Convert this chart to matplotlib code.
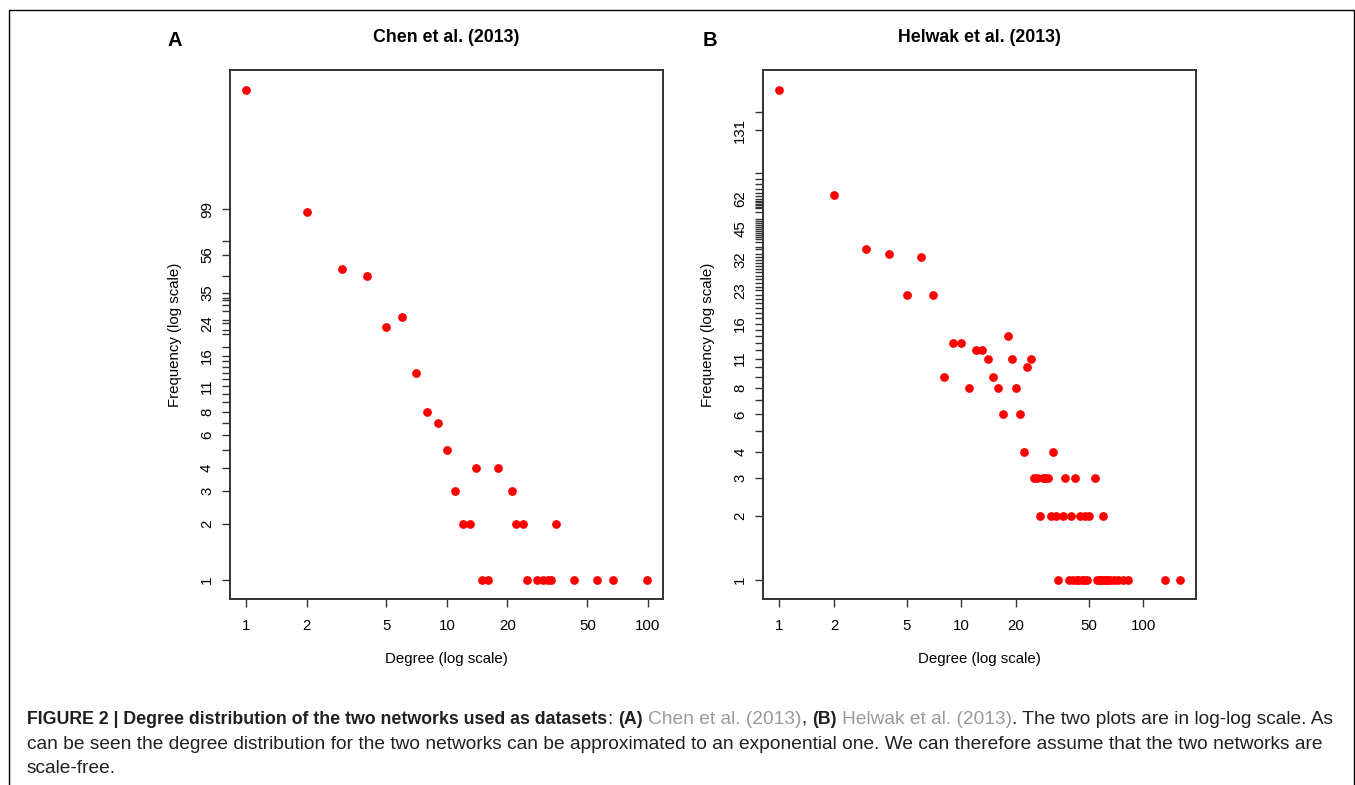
import matplotlib
matplotlib.use("Agg")
import matplotlib.pyplot as plt
from matplotlib.ticker import NullLocator
from matplotlib.transforms import IdentityTransform
from matplotlib.lines import Line2D

plt.rcParams['font.family'] = ['Liberation Sans', 'DejaVu Sans']

# Chen et al. (2013): degree -> frequency
chen_degree = [1, 2, 3, 4, 5, 6, 7, 8, 9, 10, 11, 12, 13, 14, 15, 16, 18, 21, 22,
               24, 25, 28, 30, 32, 33, 35, 43, 56, 67, 99]
chen_freq = [435, 95, 47, 43, 23, 26, 13, 8, 7, 5, 3, 2, 2, 4, 1, 1, 4, 3, 2,
             2, 1, 1, 1, 1, 1, 2, 1, 1, 1, 1]
chen_ylabels = [1, 2, 3, 4, 6, 8, 11, 16, 24, 35, 56, 99]

# Helwak et al. (2013): degree -> frequency
helwak_degree = [1, 2, 3, 4, 5, 6, 7, 8, 9, 10, 11, 12, 13, 14, 15, 16, 17, 18, 19,
                 20, 21, 22, 23, 24, 25, 26, 27, 28, 29, 30, 31, 32, 33, 34, 36, 37,
                 39, 40, 41, 42, 43, 44, 45, 46, 47, 48, 49, 50, 54, 56, 57, 58, 59,
                 60, 61, 62, 64, 66, 69, 73, 77, 82, 131, 159]
helwak_freq = [203, 65, 36, 34, 22, 33, 22, 9, 13, 13, 8, 12, 12, 11, 9, 8, 6, 14, 11,
               8, 6, 4, 10, 11, 3, 3, 2, 3, 3, 3, 2, 4, 2, 1, 2, 3,
               1, 2, 1, 3, 1, 1, 2, 1, 1, 2, 1, 2, 3, 1, 1, 1, 1,
               2, 1, 1, 1, 1, 1, 1, 1, 1, 1, 1]
helwak_ylabels = [1, 2, 3, 4, 6, 8, 11, 16, 23, 32, 45, 62, 131]

xtick_vals = [1, 2, 5, 10, 20, 50, 100]

W, H = 1355, 785
fig = plt.figure(figsize=(W / 100, H / 100), dpi=100)


def log_lim(vals, pad=0.04):
    lo, hi = min(vals), max(vals)
    r = hi / lo
    return lo * r ** -pad, hi * r ** pad


def panel(rect, deg, freq, ylabs, title, letter, letter_x):
    ax = fig.add_axes(rect)
    ax.plot(deg, freq, 'o', color='red', ms=6.3, mew=0)
    ax.set_xscale('log')
    ax.set_yscale('log')
    ax.set_xticks(xtick_vals)
    ax.set_xticklabels([str(v) for v in xtick_vals])
    ax.set_yticks(deg)
    ax.set_yticklabels([str(d) if d in ylabs else '' for d in deg])
    ax.xaxis.set_minor_locator(NullLocator())
    ax.yaxis.set_minor_locator(NullLocator())
    ax.set_xlim(*log_lim(deg))
    ax.set_ylim(*log_lim(freq))
    for sp in ax.spines.values():
        sp.set_color('#333333')
        sp.set_linewidth(1.4)
    ax.tick_params(axis='both', direction='out', length=5.5, width=1.0,
                   color='#333333', labelsize=10.8)
    ax.tick_params(axis='x', pad=9)
    ax.tick_params(axis='y', pad=6)
    for lab in ax.get_yticklabels():
        lab.set_rotation(90)
        lab.set_va('center')
    ax.text(0.5, -0.113, 'Degree (log scale)', transform=ax.transAxes,
            ha='center', va='center', fontsize=10.8)
    ax.text(-0.128, 0.5, 'Frequency (log scale)', transform=ax.transAxes,
            ha='center', va='center', rotation=90, fontsize=10.8)
    ax.text(0.5, 1 + (785 - 38 - 715) / 529.3, title, transform=ax.transAxes,
            ha='center', va='center', fontsize=12.8, fontweight='bold')
    fig.text(letter_x / W, 1 - 40 / H, letter, ha='center', va='center',
             fontsize=14.5, fontweight='bold')
    return ax


panel([230 / W, 185.7 / H, 433 / W, 529.3 / H], chen_degree, chen_freq,
      chen_ylabels, 'Chen et al. (2013)', 'A', 175)
panel([763.3 / W, 185.7 / H, 432.7 / W, 529.3 / H], helwak_degree, helwak_freq,
      helwak_ylabels, 'Helwak et al. (2013)', 'B', 710)

# outer frame (open at bottom)
frame = Line2D([9 / W, 9 / W, 1353.5 / W, 1353.5 / W],
               [0, 1 - 10 / H, 1 - 10 / H, 0],
               transform=fig.transFigure, color='black', lw=1.0)
fig.add_artist(frame)

# caption, drawn run by run (bold face in the original is condensed)
renderer = fig.canvas.get_renderer()
cap_size = {'normal': 13.75, 'bold': 12.8}
cap_fam = ['Liberation Sans']
dark = '#231f20'
grey = '#999999'


def width_of(s, weight):
    t = fig.text(0, 0, s, fontsize=cap_size[weight], fontweight=weight,
                 family=cap_fam, transform=IdentityTransform())
    w = t.get_window_extent(renderer).width
    t.remove()
    return w


space_w = width_of('a a', 'normal') - width_of('aa', 'normal')


def draw_line(runs, x, y):
    for text, weight, color, gap in runs:
        t = fig.text(x, y, text, fontsize=cap_size[weight], fontweight=weight,
                     color=color, family=cap_fam, va='baseline',
                     transform=IdentityTransform())
        x += t.get_window_extent(renderer).width
        if gap:
            x += space_w


line1 = [
    ('FIGURE 2 | Degree distribution of the two networks used as datasets', 'bold', dark, False),
    (':', 'normal', dark, True),
    ('(A)', 'bold', dark, True),
    ('Chen et al. (2013)', 'normal', grey, False),
    (',', 'normal', dark, True),
    ('(B)', 'bold', dark, True),
    ('Helwak et al. (2013)', 'normal', grey, False),
    ('. The two plots are in log-log scale. As', 'normal', dark, False),
]
line2 = [('can be seen the degree distribution for the two networks can be approximated '
          'to an exponential one. We can therefore assume that the two networks are',
          'normal', dark, False)]
line3 = [('scale-free.', 'normal', dark, False)]

draw_line(line1, 27, H - 724)
draw_line(line2, 27, H - 749)
draw_line(line3, 27, H - 773)

fig.savefig('out.png', dpi=100)
